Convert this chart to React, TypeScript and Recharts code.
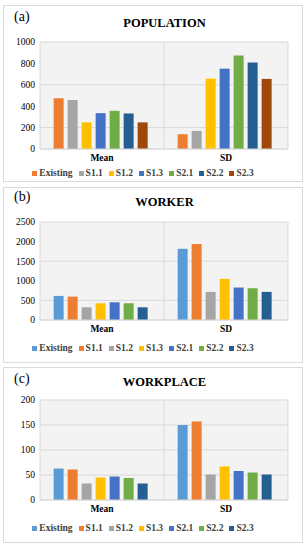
import { BarChart, Bar, XAxis, YAxis, CartesianGrid, Legend } from 'recharts';

const FONT = "'Liberation Serif', 'Times New Roman', serif";

const categories = ['Mean', 'SD'];
const seriesNames = ['Existing', 'S1.1', 'S1.2', 'S1.3', 'S2.1', 'S2.2', 'S2.3'];

const popMean = [474, 458, 249, 335, 357, 332, 249];
const popSD = [138, 169, 658, 751, 874, 809, 655];
const popTicks = [0, 200, 400, 600, 800, 1000];
const popColors = ['#ED7D31', '#A5A5A5', '#FFC000', '#4472C4', '#70AD47', '#255E91', '#9E480E'];

const workerMean = [614, 597, 324, 427, 452, 427, 324];
const workerSD = [1817, 1937, 717, 1049, 828, 811, 717];
const workerTicks = [0, 500, 1000, 1500, 2000, 2500];

const placeMean = [63, 61, 33, 45, 47, 44, 33];
const placeSD = [150, 157, 51, 67, 58, 55, 51];
const placeTicks = [0, 50, 100, 150, 200];

const otherColors = ['#5B9BD5', '#ED7D31', '#A5A5A5', '#FFC000', '#4472C4', '#70AD47', '#255E91'];

function buildRows(mean: number[], sd: number[]) {
  return categories.map((c, ci) => {
    const row: Record<string, string | number> = { cat: c };
    seriesNames.forEach((s, i) => {
      row[s] = ci === 0 ? mean[i] : sd[i];
    });
    return row;
  });
}

function LegendContent({ payload }: any) {
  return (
    <div style={{ display: 'flex', justifyContent: 'center', height: 12, lineHeight: '12px', fontFamily: FONT, fontWeight: 'bold', fontSize: 9.5, color: '#404040' }}>
      {(payload || []).map((p: any) => (
        <span key={p.value} style={{ display: 'flex', alignItems: 'center', marginRight: 6 }}>
          <span style={{ width: 5, height: 5, background: p.color, marginRight: 2, display: 'inline-block' }} />
          {p.value}
        </span>
      ))}
    </div>
  );
}

interface PanelProps {
  tag: string;
  title: string;
  mean: number[];
  sd: number[];
  ticks: number[];
  colors: string[];
  top: number;
  height: number;
  plotTop: number;
  plotBottom: number;
  titleY: number;
  tagY: number;
  legendY: number;
}

function Panel(p: PanelProps) {
  const W = 300;
  const data = buildRows(p.mean, p.sd);
  const chartH = p.height - 2;
  const marginBottom = chartH - (p.legendY - 1 + 6);
  const xAxisH = p.legendY - 6 - p.plotBottom;
  return (
    <div style={{ position: 'absolute', left: 3, top: p.top, width: W, height: p.height, border: '1px solid #d9d9d9', boxSizing: 'border-box', background: '#fff' }}>
      <div style={{ position: 'absolute', left: 10, top: p.tagY - 8, fontFamily: FONT, fontSize: 14, color: '#000', lineHeight: '16px' }}>{p.tag}</div>
      <div style={{ position: 'absolute', left: 36, width: 249, top: p.titleY - 8, textAlign: 'center', fontFamily: FONT, fontWeight: 'bold', fontSize: 12.5, color: '#000', lineHeight: '16px' }}>{p.title}</div>
      <BarChart
        width={W - 2}
        height={chartH}
        data={data}
        margin={{ top: p.plotTop - 1, right: 14, left: 0, bottom: marginBottom }}
        barCategoryGap="11%"
        barGap={4}
      >
        <CartesianGrid
          stroke="#d9d9d9"
          fill="#f3f3f3"
          verticalCoordinatesGenerator={({ offset }: any) => [offset.left, offset.left + offset.width / 2, offset.left + offset.width]}
        />
        <XAxis
          dataKey="cat"
          height={xAxisH}
          axisLine={{ stroke: '#d9d9d9' }}
          tickLine={false}
          tickSize={4}
          tickMargin={1}
          tick={{ fontFamily: FONT, fontWeight: 'bold', fontSize: 9.5, fill: '#000' }}
        />
        <YAxis
          width={36}
          domain={[0, p.ticks[p.ticks.length - 1]]}
          ticks={p.ticks}
          axisLine={false}
          tickLine={false}
          tickSize={2}
          tickMargin={3}
          tick={{ fontFamily: FONT, fontSize: 9.5, fill: '#000' }}
        />
        <Legend verticalAlign="bottom" align="center" height={12} content={<LegendContent />} />
        {seriesNames.map((s, i) => (
          <Bar key={s} dataKey={s} fill={p.colors[i]} isAnimationActive={false} />
        ))}
      </BarChart>
    </div>
  );
}

export default function App() {
  return (
    <div style={{ position: 'absolute', left: 0, top: 0, width: 306, height: 550, background: '#fff' }}>
      <Panel tag="(a)" title="POPULATION" mean={popMean} sd={popSD} ticks={popTicks} colors={popColors}
        top={5} height={177} plotTop={37} plotBottom={144} titleY={17} tagY={11} legendY={168} />
      <Panel tag="(b)" title="WORKER" mean={workerMean} sd={workerSD} ticks={workerTicks} colors={otherColors}
        top={187} height={176} plotTop={35} plotBottom={133} titleY={14} tagY={9} legendY={161} />
      <Panel tag="(c)" title="WORKPLACE" mean={placeMean} sd={placeSD} ticks={placeTicks} colors={otherColors}
        top={367} height={176} plotTop={33} plotBottom={133} titleY={14} tagY={11} legendY={161} />
    </div>
  );
}
